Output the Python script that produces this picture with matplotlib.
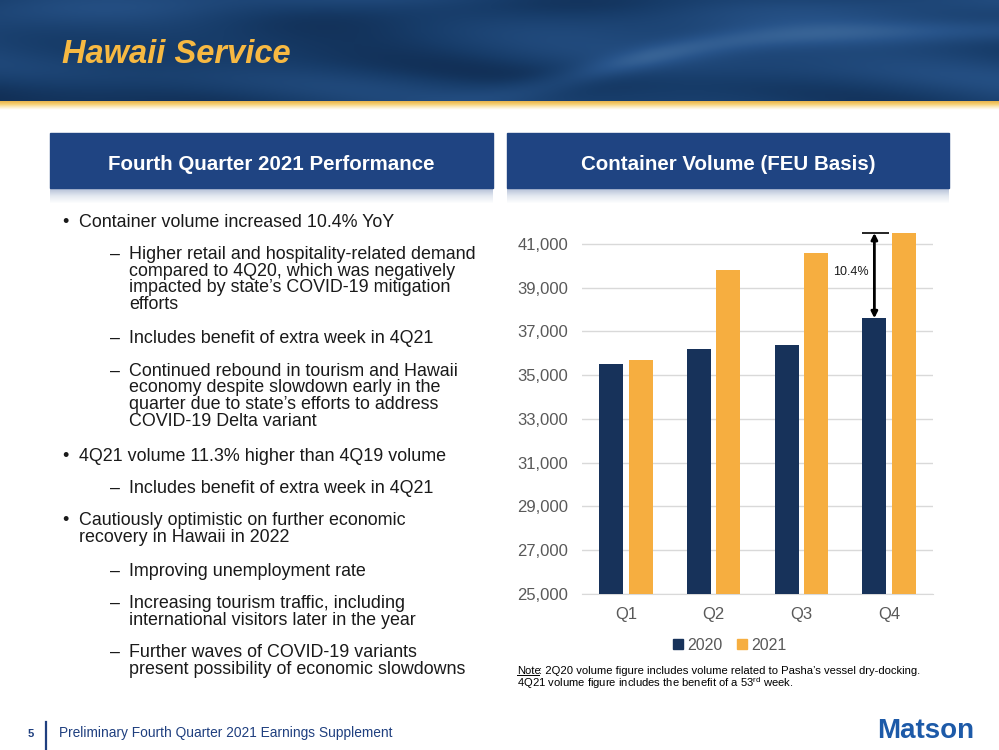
import numpy as np
from matplotlib import pyplot as plt
from matplotlib.colors import LinearSegmentedColormap
from matplotlib.patches import Patch, Rectangle

plt.rcParams['font.family'] = ['Liberation Sans', 'DejaVu Sans']
plt.rcParams['mathtext.fontset'] = 'custom'
plt.rcParams['mathtext.rm'] = 'Liberation Sans'

W, H = 999, 750

quarters = ['Q1', 'Q2', 'Q3', 'Q4']
volume_2020 = [35500, 36200, 36400, 37600]
volume_2021 = [35700, 39800, 40600, 41500]
y_ticks = [25000, 27000, 29000, 31000, 33000, 35000, 37000, 39000, 41000]
yoy_label = '10.4%'

# (level, text, baseline y in px)
bullets = [
    (0, 'Container volume increased 10.4% YoY', 227),
    (1, 'Higher retail and hospitality-related demand', 259),
    (2, 'compared to 4Q20, which was negatively', 276),
    (2, 'impacted by state\u2019s COVID-19 mitigation', 292),
    (2, 'efforts', 309),
    (1, 'Includes benefit of extra week in 4Q21', 343),
    (1, 'Continued rebound in tourism and Hawaii', 376),
    (2, 'economy despite slowdown early in the', 392),
    (2, 'quarter due to state\u2019s efforts to address', 409),
    (2, 'COVID-19 Delta variant', 426),
    (0, '4Q21 volume 11.3% higher than 4Q19 volume', 461),
    (1, 'Includes benefit of extra week in 4Q21', 493),
    (0, 'Cautiously optimistic on further economic', 525),
    (3, 'recovery in Hawaii in 2022', 542),
    (1, 'Improving unemployment rate', 576),
    (1, 'Increasing tourism traffic, including', 608),
    (2, 'international visitors later in the year', 625),
    (1, 'Further waves of COVID-19 variants', 657),
    (2, 'present possibility of economic slowdowns', 674),
]

NAVY = '#17325a'
GOLD = '#f6ae40'
BOX_BLUE = '#1f4482'
TEXT = '#1a1a1a'


def px(x, y):
    return x / W, 1 - y / H


def px_box(x0, y0, x1, y1):
    return [x0 / W, 1 - y1 / H, (x1 - x0) / W, (y1 - y0) / H]


fig = plt.figure(figsize=(W / 100, H / 100), dpi=100)
fig.patch.set_facecolor('white')

# header band with a smooth wavy dark-blue texture
hx, hy = np.meshgrid(np.linspace(0, 1, 500), np.linspace(0, 1, 60))
crest_y = 0.7 - 0.4 * np.tanh((hx - 0.6) * 7)
crest = np.exp(-((hy - crest_y) ** 2) / 0.015) * np.clip((hx - 0.4) * 4, 0, 1)
texture = (0.48 + 0.10 * np.sin(hx * 8 + 2.5 * np.sin(hy * 4))
           + 0.05 * np.sin(hx * 19 - hy * 6) + 0.28 * crest
           - 0.12 * hy * (1 - hx))
ocean = LinearSegmentedColormap.from_list('ocean', ['#0a1e3c', '#173c69', '#28548a', '#4a75a3'])
ax_head = fig.add_axes(px_box(0, 0, W, 101))
ax_head.imshow(texture, cmap=ocean, aspect='auto', vmin=0.1, vmax=1.0, interpolation='bicubic')
ax_head.axis('off')

gold_band = LinearSegmentedColormap.from_list('gold', ['#e9b54c', '#f6cf72', '#fbeac0', '#ffffff'])
ax_line = fig.add_axes(px_box(0, 101, W, 110))
ax_line.imshow(np.linspace(0, 1, 20).reshape(-1, 1), cmap=gold_band, aspect='auto')
ax_line.axis('off')

fig.text(*px(62, 63), 'Hawaii Service', color='#f7b942', fontsize=23.5,
         fontweight='bold', fontstyle='italic', va='baseline')

# section header boxes
shadow = LinearSegmentedColormap.from_list('shadow', ['#b3bfd6', '#e4e9f1', '#ffffff'])
for x0, x1, label in [(50, 493, 'Fourth Quarter 2021 Performance'),
                      (507, 949, 'Container Volume (FEU Basis)')]:
    fig.patches.append(Rectangle(px(x0, 188), (x1 - x0) / W, 55 / H,
                                 transform=fig.transFigure, color=BOX_BLUE))
    ax_sh = fig.add_axes(px_box(x0, 188, x1, 204))
    ax_sh.imshow(np.linspace(0, 1, 16).reshape(-1, 1), cmap=shadow, aspect='auto')
    ax_sh.axis('off')
    fig.text(*px((x0 + x1) / 2, 169.5), label, color='white', fontsize=14.8,
             fontweight='bold', ha='center', va='baseline')

# bullet list
body = dict(color=TEXT, fontsize=12.9, va='baseline')
for level, line, y in bullets:
    if level == 0:
        fig.text(*px(62, y), '\u2022', **body)
        fig.text(*px(79, y), line, **body)
    elif level == 1:
        fig.text(*px(110, y), '\u2013', **body)
        fig.text(*px(129, y), line, **body)
    elif level == 2:
        fig.text(*px(129, y), line, **body)
    else:
        fig.text(*px(79, y), line, **body)

# bar chart
ax = fig.add_axes(px_box(582, 222, 933, 594))
x = np.arange(len(quarters))
width = 0.275
ax.bar(x - 0.168, volume_2020, width, color=NAVY, label='2020', zorder=3)
ax.bar(x + 0.168, volume_2021, width, color=GOLD, label='2021', zorder=3)
ax.set_xlim(-0.5, len(quarters) - 0.5)
ax.set_ylim(25000, 42000)
ax.set_yticks(y_ticks)
ax.set_yticklabels([f'{v:,}' for v in y_ticks])
ax.set_xticks(x)
ax.set_xticklabels(quarters)
ax.tick_params(axis='both', length=0, colors='#595959', labelsize=12)
ax.tick_params(axis='y', pad=10)
ax.tick_params(axis='x', pad=9)
ax.grid(axis='y', color='#d9d9d9', linewidth=1, zorder=0)
for side in ['top', 'right', 'left']:
    ax.spines[side].set_visible(False)
ax.spines['bottom'].set_color('#d9d9d9')
ax.patch.set_alpha(0)

arrow_x = x[-1] - 0.168
ax.hlines(volume_2021[-1], x[-1] - 0.31, x[-1], color='black', linewidth=1.2, zorder=4)
ax.annotate('', xy=(arrow_x, volume_2020[-1]), xytext=(arrow_x, volume_2021[-1]),
            arrowprops=dict(arrowstyle='<|-|>', color='black', lw=2,
                            mutation_scale=9, shrinkA=0, shrinkB=0), zorder=5)
ax.text(arrow_x - 0.06, (volume_2020[-1] + volume_2021[-1]) / 2 + 180, yoy_label,
        ha='right', va='center', fontsize=9, color=TEXT)

handles = [Patch(color=NAVY, label='2020'), Patch(color=GOLD, label='2021')]
fig.legend(handles=handles, loc='center', bbox_to_anchor=px(730, 645), ncol=2,
           frameon=False, handlelength=0.6, handleheight=0.6, handletextpad=0.3,
           columnspacing=0.9, fontsize=11.5, labelcolor='#595959')

# note under the chart
note_style = dict(fontsize=8.1, color='black', va='baseline')
fig.text(*px(517, 674), 'Note', **note_style)
fig.text(*px(539, 674), ': 2Q20 volume figure includes volume related to Pasha\u2019s vessel dry-docking.',
         **note_style)
fig.text(*px(517, 687), r'4Q21 volume figure includes the benefit of a 53$^{\rm rd}$ week.', **note_style)
fig.lines.append(plt.Line2D([517 / W, 539 / W], [1 - 675.3 / H, 1 - 675.3 / H],
                            transform=fig.transFigure, color='black', linewidth=0.7))

# footer
FOOT = '#1f3f7f'
fig.text(*px(28, 737), '5', fontsize=8, fontweight='bold', color=FOOT, va='baseline')
fig.lines.append(plt.Line2D([46 / W, 46 / W], [1 - 722 / H, 0],
                            transform=fig.transFigure, color=FOOT, linewidth=1.6))
fig.text(*px(59, 737), 'Preliminary Fourth Quarter 2021 Earnings Supplement',
         fontsize=9.9, color=FOOT, va='baseline')
fig.text(*px(877, 738), 'Matson', fontsize=20, fontweight='bold', color='#1d5aa8', va='baseline')

fig.savefig('out.png', dpi=100, facecolor='white')
